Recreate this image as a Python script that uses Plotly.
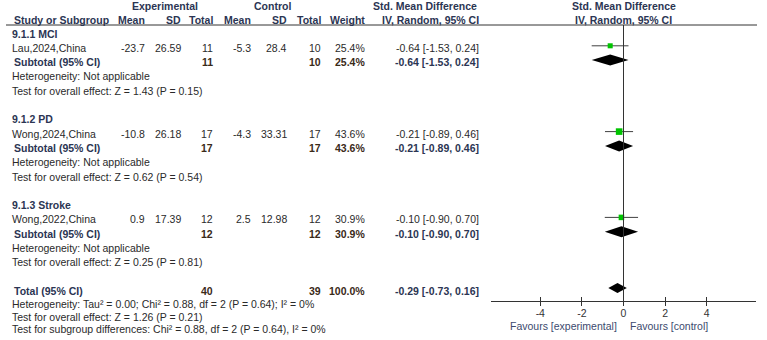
import plotly.graph_objects as go

# ---------------- data ----------------
subgroups = ["9.1.1 MCI", "9.1.2 PD", "9.1.3 Stroke"]
studies = ["Lau,2024,China", "Wong,2024,China", "Wong,2022,China"]
exp_mean = [-23.7, -10.8, 0.9]
exp_sd = [26.59, 26.18, 17.39]
exp_n = [11, 17, 12]
ctl_mean = [-5.3, -4.3, 2.5]
ctl_sd = [28.4, 33.31, 12.98]
ctl_n = [10, 17, 12]
weights = [25.4, 43.6, 30.9]
smd = [-0.64, -0.21, -0.10]
ci_lo = [-1.53, -0.89, -0.90]
ci_hi = [0.24, 0.46, 0.70]
sub_het = ["Heterogeneity: Not applicable"] * 3
sub_z = ["Test for overall effect: Z = 1.43 (P = 0.15)",
         "Test for overall effect: Z = 0.62 (P = 0.54)",
         "Test for overall effect: Z = 0.25 (P = 0.81)"]
total_n = [40, 39]
total_weight = 100.0
total_smd = [-0.29, -0.73, 0.16]
footer = ["Heterogeneity: Tau² = 0.00; Chi² = 0.88, df = 2 (P = 0.64); I² = 0%",
          "Test for overall effect: Z = 1.26 (P = 0.21)",
          "Test for subgroup differences: Chi² = 0.88, df = 2 (P = 0.64), I² = 0%"]
tick_vals = [-4, -2, 0, 2, 4]
tick_text = ["-4", "-2", "0", "2", "4"]
favours = ["Favours [experimental]", "Favours [control]"]

# ---------------- layout constants ----------------
W, H = 767, 340
FONT = "Liberation Sans, Arial, sans-serif"
FS = 10.5
C_HEAD = "#2b3553"
C_BOLD = "#3a2a18"
C_TXT = "#2a2a2a"
GREEN = "#00c400"
ROW0, STEP = 33.5, 14.3
AXIS_Y = 301
TOP_LINE_Y = 25
X_LEFT, X_RIGHT = 491, 756
XR = 6.37

col_right = {"em": 147, "esd": 183, "en": 215, "cm": 253, "csd": 289,
             "cn": 323, "w": 367, "ci": 481}

fig = go.Figure()
ann = []


def txt(x, y, s, anchor="left", bold=False, color=C_TXT, xref="paper"):
    xx = x / W if xref == "paper" else x
    ann.append(dict(x=xx, y=y, xref=xref, yref="y", text=f"<b>{s}</b>" if bold else s,
                    showarrow=False, xanchor=anchor, yanchor="middle",
                    font=dict(family=FONT, size=FS, color=color)))


# headers
txt(165, 6, "Experimental", "center", True, C_HEAD)
txt(272, 6, "Control", "center", True, C_HEAD)
txt(425, 6, "Std. Mean Difference", "center", True, C_HEAD)
txt(0, 6, "Std. Mean Difference", "center", True, C_HEAD, xref="x")
txt(12, 20, "Study or Subgroup", "left", True, C_HEAD)
for k, lab in [("em", "Mean"), ("esd", "SD"), ("en", "Total"), ("cm", "Mean"),
               ("csd", "SD"), ("cn", "Total"), ("w", "Weight"), ("ci", "IV, Random, 95% CI")]:
    txt(col_right[k], 20, lab, "right", True, C_HEAD)
txt(0, 20, "IV, Random, 95% CI", "center", True, C_HEAD, xref="x")


def ci_str(m, lo, hi):
    return f"{m:.2f} [{lo:.2f}, {hi:.2f}]"


def diamond(y, m, lo, hi, hh):
    fig.add_trace(go.Scatter(x=[lo, m, hi, m, lo], y=[y, y - hh, y, y + hh, y],
                             mode="lines", fill="toself", fillcolor="black",
                             line=dict(color="black", width=0), hoverinfo="skip",
                             showlegend=False))


for i in range(3):
    base = ROW0 + STEP * 6 * i
    r_head, r_study, r_sub, r_het, r_z = [base + STEP * j for j in range(5)]
    txt(10, r_head, subgroups[i], "left", True, C_HEAD)
    txt(10, r_study, studies[i])
    txt(col_right["em"], r_study, f"{exp_mean[i]}", "right")
    txt(col_right["esd"], r_study, f"{exp_sd[i]}", "right")
    txt(col_right["en"], r_study, f"{exp_n[i]}", "right")
    txt(col_right["cm"], r_study, f"{ctl_mean[i]}", "right")
    txt(col_right["csd"], r_study, f"{ctl_sd[i]}", "right")
    txt(col_right["cn"], r_study, f"{ctl_n[i]}", "right")
    txt(col_right["w"], r_study, f"{weights[i]:.1f}%", "right")
    txt(col_right["ci"], r_study, ci_str(smd[i], ci_lo[i], ci_hi[i]), "right")
    txt(12, r_sub, "Subtotal (95% CI)", "left", True, C_HEAD)
    txt(col_right["en"], r_sub, f"{exp_n[i]}", "right", True, C_BOLD)
    txt(col_right["cn"], r_sub, f"{ctl_n[i]}", "right", True, C_BOLD)
    txt(col_right["w"], r_sub, f"{weights[i]:.1f}%", "right", True, C_BOLD)
    txt(col_right["ci"], r_sub, ci_str(smd[i], ci_lo[i], ci_hi[i]), "right", True, C_HEAD)
    txt(10, r_het, sub_het[i])
    txt(10, r_z, sub_z[i])
    # plot marks
    fig.add_trace(go.Scatter(x=[ci_lo[i], ci_hi[i]], y=[r_study - 2, r_study - 2], mode="lines",
                             line=dict(color="#404040", width=1), hoverinfo="skip", showlegend=False))
    fig.add_trace(go.Scatter(x=[smd[i]], y=[r_study - 2], mode="markers",
                             marker=dict(symbol="square", color=GREEN,
                                         size=10 * (weights[i] / 100) ** 0.5,
                                         line=dict(width=0)),
                             hoverinfo="skip", showlegend=False))
    diamond(r_sub - 2, smd[i], ci_lo[i], ci_hi[i], 5.5)

r_tot = ROW0 + STEP * 18
txt(12, r_tot, "Total (95% CI)", "left", True, C_HEAD)
txt(col_right["en"], r_tot, f"{total_n[0]}", "right", True, C_BOLD)
txt(col_right["cn"], r_tot, f"{total_n[1]}", "right", True, C_BOLD)
txt(col_right["w"], r_tot, f"{total_weight:.1f}%", "right", True, C_BOLD)
txt(col_right["ci"], r_tot, ci_str(*total_smd), "right", True, C_HEAD)
for j, s in enumerate(footer):
    txt(10, r_tot + 13 + 12.7 * j, s)
diamond(r_tot - 3, total_smd[0], total_smd[1], total_smd[2], 5)

# zero line
fig.add_trace(go.Scatter(x=[0, 0], y=[TOP_LINE_Y, AXIS_Y], mode="lines",
                         line=dict(color="#333333", width=1), hoverinfo="skip", showlegend=False))
# dummy trace for overlay tick axis
fig.add_trace(go.Scatter(x=[0], y=[AXIS_Y], xaxis="x2", mode="markers",
                         marker=dict(opacity=0), hoverinfo="skip", showlegend=False))

# favours labels
ann.append(dict(x=-0.22, y=326, xref="x", yref="y", text=favours[0], showarrow=False,
                xanchor="right", yanchor="middle", font=dict(family=FONT, size=FS, color="#3c4a6e")))
ann.append(dict(x=0.22, y=326, xref="x", yref="y", text=favours[1], showarrow=False,
                xanchor="left", yanchor="middle", font=dict(family=FONT, size=FS, color="#3c4a6e")))

axpos = 1 - AXIS_Y / H
dom = [X_LEFT / W, X_RIGHT / W]
fig.update_layout(
    width=W, height=H, margin=dict(l=0, r=0, t=0, b=0),
    paper_bgcolor="white", plot_bgcolor="white",
    annotations=ann,
    shapes=[dict(type="line", xref="paper", yref="y", x0=6 / W, x1=757 / W,
                 y0=TOP_LINE_Y, y1=TOP_LINE_Y, line=dict(color="#333333", width=1))],
    xaxis=dict(domain=dom, range=[-XR, XR], anchor="free", position=axpos,
               showline=True, linecolor="#333333", linewidth=1, ticks="outside",
               ticklen=4, tickcolor="#333333", tickvals=tick_vals, ticktext=tick_text,
               showgrid=False, zeroline=False, fixedrange=True, ticklabelstandoff=-2,
               tickfont=dict(family=FONT, size=FS, color="#333333")),
    xaxis2=dict(domain=dom, range=[-XR, XR], anchor="free", position=axpos,
                overlaying="x", showline=False, ticks="inside", ticklen=4,
                tickcolor="#333333", tickvals=tick_vals, showticklabels=False,
                showgrid=False, zeroline=False, fixedrange=True),
    yaxis=dict(domain=[0, 1], range=[H, 0], visible=False, fixedrange=True),
    showlegend=False,
)
fig.write_html("out.html")
